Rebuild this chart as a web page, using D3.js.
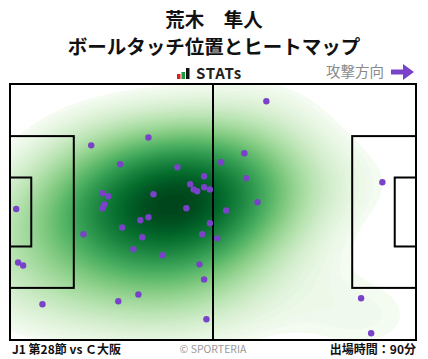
<!DOCTYPE html>
<html>
<head>
<meta charset="utf-8">
<script src="https://cdn.jsdelivr.net/npm/d3@7"></script>
<style>
body { margin: 0; background: #fff; }
text { font-family: "Noto Sans CJK JP", "Noto Sans", sans-serif; }
</style>
</head>
<body>
<div id="chart"></div>
<script>
// labels
var playerName = "荒木　隼人";
var chartTitle = "ボールタッチ位置とヒートマップ";
var matchLabel = "J1 第28節 vs Ｃ大阪";
var minutesLabel = "出場時間：90分";
var directionLabel = "攻撃方向";
var creditLabel = "© SPORTERIA";

// ball touches, pitch metres (105 x 68, attacking to the right)
var touchX = [21.0, 35.8, 28.5, 43.3, 50.2, 46.6, 47.5, 48.4, 50.2, 51.7,
	23.9, 25.4, 37.1, 24.4, 23.9, 45.6, 1.6, 66.3, 60.6, 54.6,
	61.1, 96.3, 64.0, 55.9, 33.7, 35.8, 29.0, 51.7, 19.0, 49.7,
	34.2, 53.6, 31.9, 39.4, 2.1, 3.4, 49.0, 50.2, 33.2, 28.0,
	8.4, 50.8, 90.8, 93.4];
var touchY = [16.3, 14.2, 21.3, 22.1, 24.5, 26.6, 28.0, 28.5, 27.4, 28.0,
	29.0, 29.8, 29.3, 32.0, 33.0, 33.0, 33.2, 4.6, 18.4, 20.8,
	25.0, 26.1, 31.4, 33.6, 36.2, 35.4, 38.1, 37.0, 39.9, 39.9,
	40.7, 41.0, 43.9, 45.5, 47.4, 48.2, 47.9, 51.9, 55.9, 57.7,
	58.5, 62.5, 56.9, 66.2];

var width = 428, height = 359;
var pitch = {x0: 10, x1: 416, y0: 84, y1: 340};

var xScale = d3.scaleLinear().domain([0, 105]).range([pitch.x0, pitch.x1]);
var yScale = d3.scaleLinear().domain([0, 68]).range([pitch.y0, pitch.y1]);

var svg = d3.select("#chart")
	.append("svg")
	.attr("width", width)
	.attr("height", height);

// header
svg.append("text")
	.attr("x", 214).attr("y", 27)
	.attr("text-anchor", "middle")
	.attr("font-size", 19.5).attr("font-weight", "bold").attr("fill", "#111")
	.text(playerName);

svg.append("text")
	.attr("x", 214).attr("y", 54)
	.attr("text-anchor", "middle")
	.attr("font-size", 19.5).attr("font-weight", "bold").attr("fill", "#111")
	.text(chartTitle);

// STATs logo
var logo = svg.append("g");
logo.append("rect").attr("x", 177).attr("y", 74).attr("width", 3.5).attr("height", 5).attr("fill", "#e02020");
logo.append("rect").attr("x", 181.5).attr("y", 72).attr("width", 3.5).attr("height", 7).attr("fill", "#1a9a3a");
logo.append("rect").attr("x", 186).attr("y", 68).attr("width", 3.5).attr("height", 11).attr("fill", "#111");
logo.append("text")
	.attr("x", 196).attr("y", 79)
	.attr("font-size", 15).attr("font-weight", "bold").attr("fill", "#222")
	.attr("font-family", "'DejaVu Sans', sans-serif")
	.attr("letter-spacing", 0.8)
	.text("STATs");

// attack direction
svg.append("text")
	.attr("x", 384).attr("y", 77)
	.attr("text-anchor", "end")
	.attr("font-size", 14.5).attr("fill", "#8a8a8a")
	.text(directionLabel);

svg.append("path")
	.attr("d", "M391,69.5 L403,69.5 L403,64 L414,72 L403,80 L403,74.5 L391,74.5 Z")
	.attr("fill", "#7a42c8");

// pitch background
svg.append("rect")
	.attr("x", pitch.x0).attr("y", pitch.y0)
	.attr("width", pitch.x1 - pitch.x0).attr("height", pitch.y1 - pitch.y0)
	.attr("fill", "#fff");

// kernel density estimate (gaussian, widened scott bandwidth, full covariance)
var n = touchX.length;
var mx = d3.mean(touchX), my = d3.mean(touchY);
var sxx = d3.sum(touchX, d => (d - mx) * (d - mx)) / (n - 1);
var syy = d3.sum(touchY, d => (d - my) * (d - my)) / (n - 1);
var sxy = d3.sum(touchX.map((d, i) => (d - mx) * (touchY[i] - my))) / (n - 1);
var factor = 1.45 * Math.pow(n, -1 / 6);
var cxx = sxx * factor * factor, cyy = syy * factor * factor, cxy = sxy * factor * factor;
var det = cxx * cyy - cxy * cxy;
var ixx = cyy / det, iyy = cxx / det, ixy = -cxy / det;

var cell = 2;
var gw = (pitch.x1 - pitch.x0) / cell, gh = (pitch.y1 - pitch.y0) / cell;
var values = new Float64Array(gw * gh);
for (var j = 0; j < gh; j++) {
	for (var i = 0; i < gw; i++) {
		var px = xScale.invert(pitch.x0 + (i + 0.5) * cell);
		var py = yScale.invert(pitch.y0 + (j + 0.5) * cell);
		var s = 0;
		for (var k = 0; k < n; k++) {
			var dx = px - touchX[k], dy = py - touchY[k];
			s += Math.exp(-0.5 * (ixx * dx * dx + 2 * ixy * dx * dy + iyy * dy * dy));
		}
		values[j * gw + i] = s;
	}
}

// iso-proportion levels, lowest sliver of mass left blank
var thresh = 0.03;
var sorted = Array.from(values).sort((a, b) => b - a);
var total = d3.sum(sorted);
var cum = [], acc = 0;
sorted.forEach(function(v) { acc += v; cum.push(acc / total); });
var nLevels = 70;
var levels = d3.range(nLevels).map(function(t) {
	var q = thresh + (1 - thresh) * t / (nLevels - 1);
	var idx = d3.bisectLeft(cum, 1 - q);
	return sorted[Math.min(idx, sorted.length - 1)];
});
levels.sort((a, b) => a - b);
var lmin = levels[0], lmax = levels[levels.length - 1];

var contours = d3.contours()
	.size([gw, gh])
	.thresholds(levels)(values);

var geoPath = d3.geoPath(d3.geoIdentity().scale(cell).translate([pitch.x0, pitch.y0]));

function bandColor(d, i) {
	var next = i + 1 < levels.length ? levels[i + 1] : lmax;
	var t = ((d.value + next) / 2 - lmin) / (lmax - lmin);
	return d3.interpolateGreens(Math.pow(t, 0.75));
}

svg.append("clipPath").attr("id", "pitchClip")
	.append("rect")
	.attr("x", pitch.x0).attr("y", pitch.y0)
	.attr("width", pitch.x1 - pitch.x0).attr("height", pitch.y1 - pitch.y0);

svg.append("g")
	.attr("clip-path", "url(#pitchClip)")
	.selectAll("path")
	.data(contours)
	.enter()
	.append("path")
	.attr("d", geoPath)
	.attr("fill", bandColor)
	.attr("stroke", bandColor)
	.attr("stroke-width", 0.5);

// pitch markings
var lines = svg.append("g")
	.attr("fill", "none")
	.attr("stroke", "#000")
	.attr("stroke-width", 2);

lines.append("rect")
	.attr("x", xScale(0)).attr("y", yScale(0))
	.attr("width", xScale(105) - xScale(0)).attr("height", yScale(68) - yScale(0));
lines.append("line")
	.attr("x1", xScale(52.5)).attr("x2", xScale(52.5))
	.attr("y1", yScale(0)).attr("y2", yScale(68));

[[0, 16.5], [105 - 16.5, 105]].forEach(function(b) {
	lines.append("rect")
		.attr("x", xScale(b[0])).attr("y", yScale(34 - 20.16))
		.attr("width", xScale(b[1]) - xScale(b[0]))
		.attr("height", yScale(34 + 20.16) - yScale(34 - 20.16));
});
[[0, 5.5], [105 - 5.5, 105]].forEach(function(b) {
	lines.append("rect")
		.attr("x", xScale(b[0])).attr("y", yScale(34 - 9.16))
		.attr("width", xScale(b[1]) - xScale(b[0]))
		.attr("height", yScale(34 + 9.16) - yScale(34 - 9.16));
});

// touch points
svg.append("g")
	.selectAll("circle")
	.data(touchX)
	.enter()
	.append("circle")
	.attr("cx", d => xScale(d))
	.attr("cy", (d, i) => yScale(touchY[i]))
	.attr("r", 3.2)
	.attr("fill", "#7a42c8");

// footer
svg.append("text")
	.attr("x", 12).attr("y", 354)
	.attr("font-size", 12).attr("font-weight", "bold").attr("fill", "#111")
	.text(matchLabel);

svg.append("text")
	.attr("x", 213).attr("y", 353)
	.attr("text-anchor", "middle")
	.attr("font-size", 10.5).attr("fill", "#999")
	.attr("font-family", "Roboto, 'Noto Sans', sans-serif")
	.text(creditLabel);

svg.append("text")
	.attr("x", 416).attr("y", 354)
	.attr("text-anchor", "end")
	.attr("font-size", 12).attr("font-weight", "bold").attr("fill", "#111")
	.text(minutesLabel);
</script>
</body>
</html>
